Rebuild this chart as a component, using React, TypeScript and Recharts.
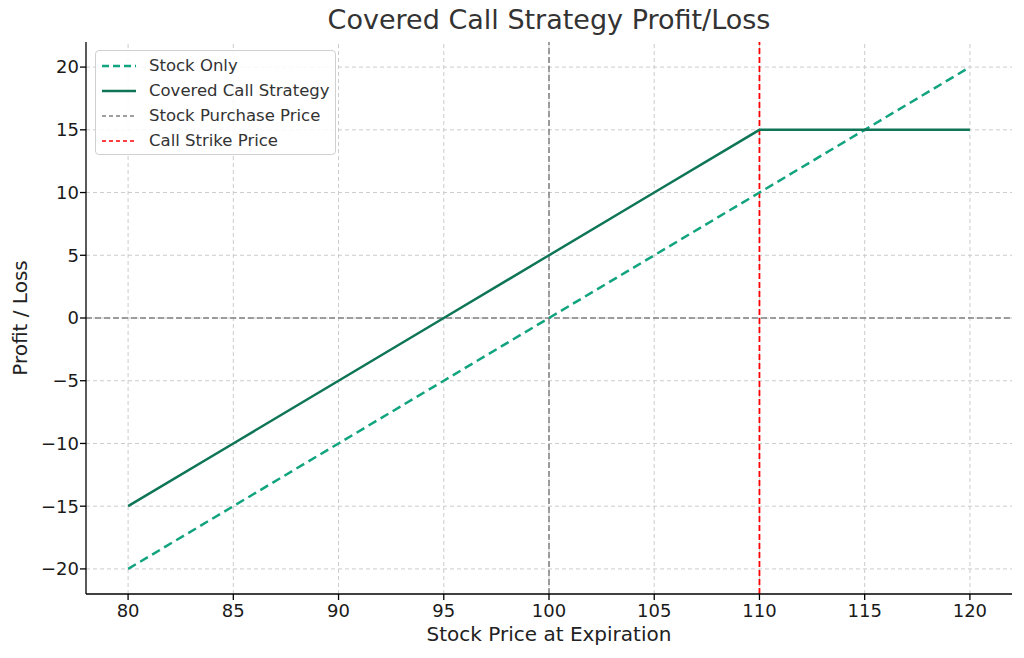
import { Line, LineChart, ReferenceLine, XAxis, YAxis } from "recharts";

const prices = [80, 85, 90, 95, 100, 105, 110, 115, 120];
const stockOnly = [-20, -15, -10, -5, 0, 5, 10, 15, 20];
const coveredCall = [-15, -10, -5, 0, 5, 10, 15, 15, 15];
const xTicks = [80, 85, 90, 95, 100, 105, 110, 115, 120];
const yTicks = [-20, -15, -10, -5, 0, 5, 10, 15, 20];
const purchasePrice = 100;
const strikePrice = 110;

const data = prices.map((p, i) => ({ price: p, stock: stockOnly[i], covered: coveredCall[i] }));

const FONT = "'DejaVu Sans', sans-serif";
const fmt = (v: number) => String(v).replace("-", "\u2212");

const legendItems = [
  { label: "Stock Only", color: "#12a37f", dash: "7 4", width: 2.5 },
  { label: "Covered Call Strategy", color: "#0e7556", dash: "", width: 2.5 },
  { label: "Stock Purchase Price", color: "#808080", dash: "4 3", width: 1.5 },
  { label: "Call Strike Price", color: "#ff0000", dash: "4 3", width: 1.5 },
];

function LegendBox() {
  return (
    <div
      style={{
        position: "absolute",
        left: 95,
        top: 50,
        width: 241,
        height: 105,
        background: "rgba(255,255,255,0.85)",
        border: "1px solid #d0d0d0",
        borderRadius: 4,
        padding: "2px 0 0 6px",
        fontFamily: FONT,
        fontSize: 16.5,
        color: "#333",
        boxSizing: "border-box",
      }}
    >
      {legendItems.map((it) => (
        <div key={it.label} style={{ display: "flex", alignItems: "center", height: 25, whiteSpace: "nowrap" }}>
          <svg width={34} height={10} style={{ marginRight: 13 }}>
            <line x1={0} y1={5} x2={34} y2={5} stroke={it.color} strokeWidth={it.width} strokeDasharray={it.dash} />
          </svg>
          {it.label}
        </div>
      ))}
    </div>
  );
}

export default function App() {
  return (
    <div style={{ position: "absolute", left: 0, top: 0, width: 1024, height: 658, background: "#fff" }}>
      <div
        style={{
          position: "absolute",
          top: 4,
          left: 86,
          width: 926,
          textAlign: "center",
          fontFamily: FONT,
          fontSize: 27,
          color: "#333",
        }}
      >
        Covered Call Strategy Profit/Loss
      </div>
      <LineChart width={1024} height={658} data={data} margin={{ top: 42, right: 12, bottom: 34, left: 0 }}>
        <XAxis
          dataKey="price"
          type="number"
          domain={[78, 122]}
          ticks={xTicks}
          allowDataOverflow
          stroke="#000"
          strokeWidth={1.3}
          tickSize={6}
          tick={{ fill: "#1a1a1a", fontSize: 18, fontFamily: FONT }}
          tickMargin={4}
        />
        <YAxis
          type="number"
          domain={[-22, 22]}
          ticks={yTicks}
          allowDataOverflow
          width={86}
          stroke="#000"
          strokeWidth={1.3}
          tickSize={6}
          tickMargin={1}
          tickFormatter={fmt}
          tick={{ fill: "#1a1a1a", fontSize: 18, fontFamily: FONT }}
        />
        {/* grid lines, at the tick values */}
        {xTicks.map((t) => (
          <ReferenceLine key={"gx" + t} x={t} stroke="#cccccc" strokeDasharray="4 3" />
        ))}
        {yTicks.map((t) => (
          <ReferenceLine key={"gy" + t} y={t} stroke="#cccccc" strokeDasharray="4 3" />
        ))}
        <ReferenceLine y={0} stroke="#808080" strokeDasharray="6 3" strokeWidth={1.5} />
        <ReferenceLine x={purchasePrice} stroke="#808080" strokeDasharray="6 3" strokeWidth={1.5} />
        <ReferenceLine x={strikePrice} stroke="#ff0000" strokeDasharray="6 3" strokeWidth={1.8} />
        <Line type="linear" dataKey="stock" stroke="#12a37f" strokeWidth={2.5} strokeDasharray="9 5" dot={false} isAnimationActive={false} />
        <Line type="linear" dataKey="covered" stroke="#0e7556" strokeWidth={2.5} dot={false} isAnimationActive={false} />
      </LineChart>
      <LegendBox />
      <div
        style={{
          position: "absolute",
          top: 622,
          left: 86,
          width: 926,
          textAlign: "center",
          fontFamily: FONT,
          fontSize: 20,
          color: "#222",
        }}
      >
        Stock Price at Expiration
      </div>
      <div
        style={{
          position: "absolute",
          left: 20,
          top: 318,
          transform: "translate(-50%, -50%) rotate(-90deg)",
          fontFamily: FONT,
          fontSize: 20,
          color: "#222",
          whiteSpace: "nowrap",
        }}
      >
        Profit / Loss
      </div>
    </div>
  );
}
